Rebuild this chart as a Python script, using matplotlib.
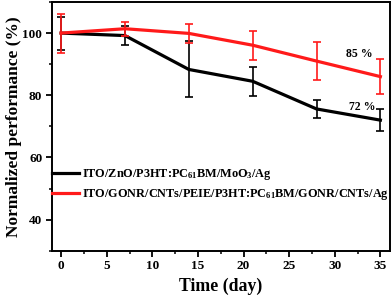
import matplotlib
matplotlib.use("Agg")
import matplotlib.pyplot as plt
from matplotlib.ticker import MultipleLocator
from matplotlib.lines import Line2D

plt.rcParams['font.family'] = ['Liberation Serif', 'DejaVu Serif']
plt.rcParams['font.weight'] = 'bold'
plt.rcParams['mathtext.fontset'] = 'custom'
plt.rcParams['mathtext.rm'] = 'Liberation Serif:bold'
plt.rcParams['mathtext.bf'] = 'Liberation Serif:bold'
plt.rcParams['mathtext.default'] = 'bf'

days = [0, 7, 14, 21, 28, 35]
ref_vals = [100, 99.2, 88.3, 84.5, 75.6, 72.0]
ref_err = [5.3, 3.1, 9.0, 4.7, 3.0, 3.5]
gonr_vals = [100, 101.4, 99.9, 96.1, 91.0, 86.0]
gonr_err = [6.3, 2.2, 3.0, 4.6, 6.2, 5.6]
label_ref = 'ITO/ZnO/P3HT:PC$_{61}$BM/MoO$_3$/Ag'
label_gonr = 'ITO/GONR/CNTs/PEIE/P3HT:PC$_{61}$BM/GONR/CNTs/Ag'
annot_texts = ['85 %', '72 %']

fig = plt.figure(figsize=(3.92, 3.02), dpi=100)
ax = fig.add_axes([52/392, 1 - 250.7/302, (389.5-52)/392, (250.7-2)/302])

ax.errorbar(days, ref_vals, yerr=ref_err, color='black', lw=2.3, elinewidth=1.2,
            capsize=2.6, capthick=1.2, label=label_ref, zorder=2)
ax.errorbar(days, gonr_vals, yerr=gonr_err, color='#ff1a1a', lw=2.3, elinewidth=1.2,
            capsize=2.6, capthick=1.2, label=label_gonr, zorder=3)

ax.text(32.7, 93.3, annot_texts[0], ha='center', va='center', fontsize=8.5, fontweight='bold')
ax.text(33.0, 76.3, annot_texts[1], ha='center', va='center', fontsize=8.5, fontweight='bold')

ax.set_xlim(-1, 36)
ax.set_ylim(30, 110)
ax.xaxis.set_major_locator(MultipleLocator(5))
ax.xaxis.set_minor_locator(MultipleLocator(2.5))
ax.yaxis.set_major_locator(MultipleLocator(20))
ax.yaxis.set_minor_locator(MultipleLocator(10))
ax.set_yticks([40, 60, 80, 100])
ax.tick_params(which='major', direction='out', length=4, width=1.3, labelsize=9.5, pad=3)
ax.tick_params(which='minor', direction='out', length=2.5, width=1.1)
for lab in ax.get_xticklabels() + ax.get_yticklabels():
    lab.set_fontweight('bold')
for s in ax.spines.values():
    s.set_linewidth(1.4)

ax.set_xlabel('Time (day)', fontsize=12.8, fontweight='bold', labelpad=4)
ax.set_ylabel('Normalized performance (%)', fontsize=12.5, fontweight='bold', labelpad=0)

hs = [Line2D([], [], color='black', lw=2.3), Line2D([], [], color='#ff1a1a', lw=2.3)]
leg = ax.legend(hs, [label_ref, label_gonr], loc='upper left', bbox_to_anchor=(0.0, 0.3365),
                frameon=False, fontsize=8.85, handlelength=2.2, handletextpad=0.25,
                borderaxespad=0.0, borderpad=0.0, labelspacing=0.4)
for t in leg.get_texts():
    t.set_fontweight('bold')

fig.savefig('out.png', dpi=100)
